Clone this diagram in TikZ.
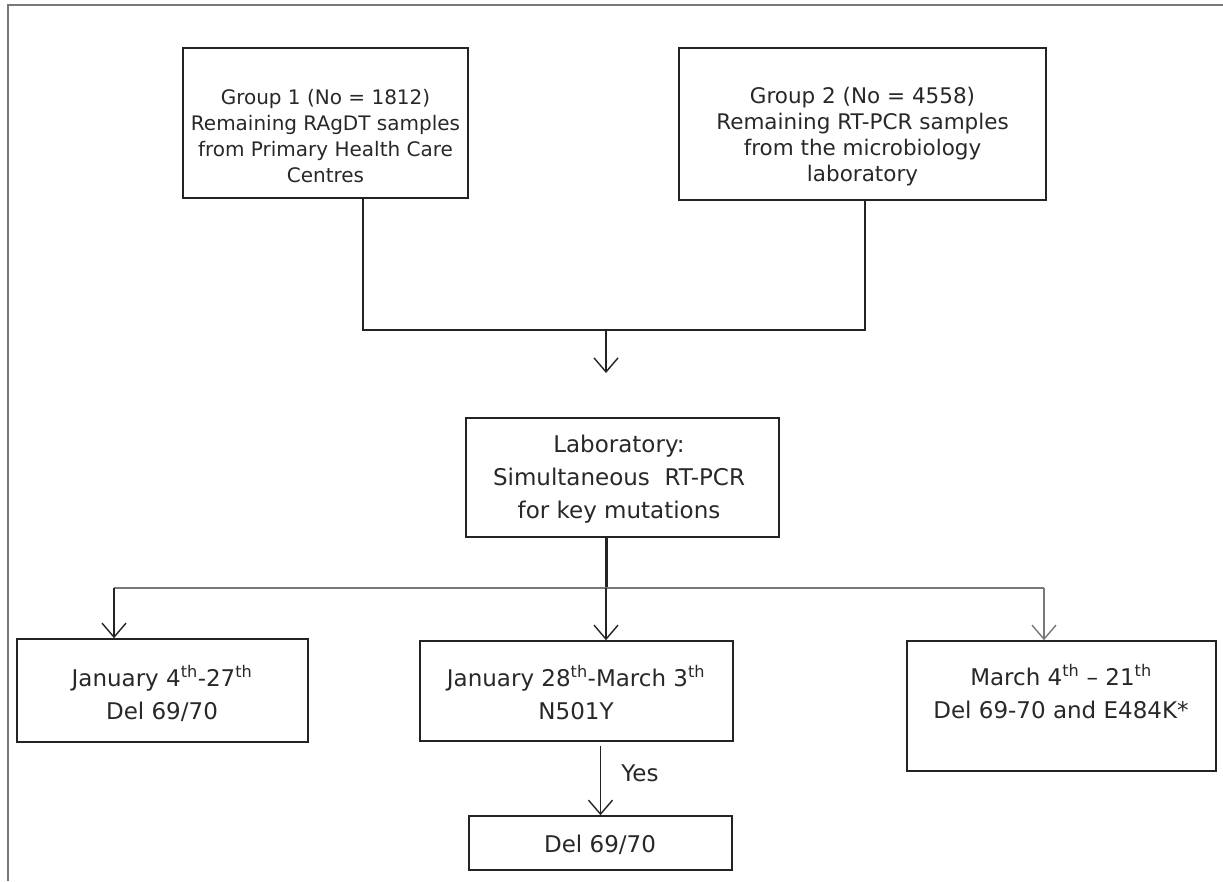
\documentclass[tikz,border=0pt]{standalone}
\usepackage{fontspec}
\setmainfont{DejaVu Sans}
\usepackage{xcolor}
\usetikzlibrary{arrows.meta, positioning, calc}
\definecolor{boxline}{RGB}{35, 35, 35}
\definecolor{frameline}{RGB}{120, 120, 120}
\definecolor{txtgray}{RGB}{40, 40, 40}

\begin{document}
\begin{tikzpicture}[x=1pt, y=-1pt,
    box/.style={draw=boxline, line width=1.6pt, inner sep=0pt},
    txt/.style={align=center, text=txtgray, inner sep=0pt, font=\fontsize{23}{33}\selectfont},
    grp/.style={txt, font=\fontsize{20}{26}\selectfont},
    link/.style={draw=boxline, line width=1.8pt},
    arr/.style={link, -{Straight Barb[length=14pt, width=24pt, line width=1.4pt]}}]
    \useasboundingbox (0,0) rectangle (1223,881);
    % frame
    \draw[frameline, line width=2pt] (8,881) -- (8,5) -- (1223,5);
    % groups
    \node[box, minimum width=285pt, minimum height=150pt] (g1) at (325.5,123) {};
    \node[grp] (g1t) at (325.5,136) {Group 1 (No = 1812)\\Remaining RAgDT samples\\from Primary Health Care\\Centres};
    \node[box, minimum width=367pt, minimum height=152pt] (g2) at (862.5,124) {};
    \node[grp, font=\fontsize{21.5}{26}\selectfont] (g2t) at (862.5,137) {Group 2 (No = 4558)\\Remaining RT-PCR samples\\from the microbiology\\laboratory};
    % laboratory
    \node[box, minimum width=313pt, minimum height=119pt] (lab) at (622.5,477.5) {};
    \node[txt] (labt) at (619,479) {Laboratory:\\Simultaneous\ \ RT-PCR\\for key mutations};
    % periods
    \node[box, minimum width=291pt, minimum height=103pt] (jan) at (162.5,690.5) {};
    \node[txt] (jant) at (162,693) {January 4\textsuperscript{th}-27\textsuperscript{th}\\Del 69/70};
    \node[box, minimum width=313pt, minimum height=100pt] (feb) at (576.5,691) {};
    \node[txt] (febt) at (576,693) {January 28\textsuperscript{th}-March 3\textsuperscript{th}\\N501Y};
    \node[box, minimum width=309pt, minimum height=130pt] (mar) at (1061.5,706) {};
    \node[txt] (mart) at (1061,692) {March 4\textsuperscript{th} -- 21\textsuperscript{th}\\Del 69-70 and E484K*};
    \node[box, minimum width=263pt, minimum height=54pt] (del) at (600.5,843) {};
    \node[txt] (delt) at (600,845) {Del 69/70};
    % connectors
    \coordinate (join) at (606,330);
    \coordinate (joinend) at (606,373);
    \coordinate (split) at (606,588);
    \coordinate (splitl) at (114,588);
    \coordinate (splitr) at (1044,588);
    \draw[link, line width=2.2pt] ([xshift=37.5pt]g1.south) |- (join) -| ([xshift=2.5pt]g2.south);
    \draw[arr, line width=2.6pt] (join) -- (joinend);
    \draw[link, line width=3pt] (lab.south -| split) -- (split);
    \draw[link, draw=frameline] (splitl) -- (splitr);
    \draw[arr] (splitl) -- (splitl |- jan.north);
    \draw[arr] (split) -- (split |- feb.north);
    \draw[arr, draw=frameline] (splitr) -- (splitr |- mar.north);
    \draw[arr] ([yshift=-4pt]feb.south -| del.north) -- (del.north)
      node[txt, midway, right=20pt, yshift=7pt] (yes) {Yes};
\end{tikzpicture}
\end{document}
